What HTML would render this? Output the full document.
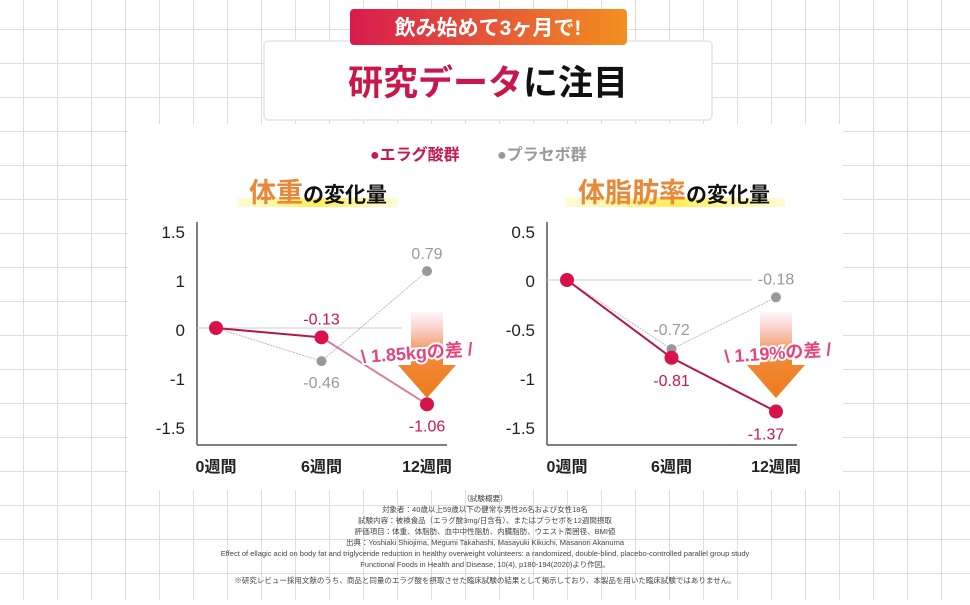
<!DOCTYPE html>
<html><head><meta charset="utf-8">
<style>
html,body{margin:0;padding:0;}
body{width:970px;height:600px;overflow:hidden;background:#fff;font-family:"Liberation Sans","Noto Sans CJK JP",sans-serif;}
svg text{font-family:"Liberation Sans","Noto Sans CJK JP",sans-serif;}
</style></head>
<body>
<svg id="s" width="970" height="600" viewBox="0 0 970 600" xmlns="http://www.w3.org/2000/svg">
<defs>
<pattern id="grid" width="34" height="34" patternUnits="userSpaceOnUse" x="-10" y="-4">
<rect width="34" height="34" fill="#fff"/>
<path d="M34 0V34M0 34H34" stroke="#dedede" stroke-width="2" fill="none"/>
</pattern>
<linearGradient id="badge" x1="0" x2="1" y1="0" y2="0"><stop offset="0" stop-color="#d81b4e"/><stop offset="1" stop-color="#f39020"/></linearGradient>
<linearGradient id="arr" x1="0" x2="0" y1="0" y2="1"><stop offset="0" stop-color="#f4a0b0" stop-opacity="0.1"/><stop offset="0.5" stop-color="#f08a3a"/><stop offset="1" stop-color="#f07a1a"/></linearGradient>
<linearGradient id="hl" x1="0" x2="1"><stop offset="0" stop-color="#fff27a" stop-opacity="0.3"/><stop offset="0.5" stop-color="#ffee55"/><stop offset="1" stop-color="#fff27a" stop-opacity="0.3"/></linearGradient>
</defs>
<rect width="970" height="600" fill="url(#grid)"/>
<rect x="128" y="124" width="715" height="366" fill="#fff"/>
<rect x="264" y="41" width="448" height="79" rx="4" fill="#fff" stroke="#e4e4e4" stroke-width="1.5"/>
<rect x="350" y="9" width="277" height="36" rx="4" fill="url(#badge)"/>
<text x="488" y="35" text-anchor="middle" font-size="21" fill="#fff" font-weight="bold">飲み始めて3ヶ月で!</text>
<text x="488" y="95" text-anchor="middle" font-size="35" font-weight="bold"><tspan fill="#c8174a">研究データ</tspan><tspan fill="#111">に注目</tspan></text>
<g>
<text x="370" y="160" font-size="16" font-weight="bold" fill="#c8174a">●エラグ酸群</text>
<text x="497" y="160" font-size="16" font-weight="bold" fill="#999">●プラセボ群</text>
</g>
<rect x="237" y="198" width="160" height="9" fill="url(#hl)"/>
<text x="318" y="202" text-anchor="middle" font-size="27" font-weight="bold"><tspan fill="#e8883a">体重</tspan><tspan fill="#111" font-size="21">の変化量</tspan></text>
<rect x="565" y="198" width="220" height="9" fill="url(#hl)"/>
<text x="674" y="202" text-anchor="middle" font-size="27" font-weight="bold"><tspan fill="#e8883a">体脂肪率</tspan><tspan fill="#111" font-size="21">の変化量</tspan></text>
<g id="c1"></g>
<g id="c2"></g>
<g font-size="7.5" fill="#444" text-anchor="middle">
<text x="485" y="501">（試験概要）</text>
<text x="485" y="512">対象者：40歳以上59歳以下の健常な男性26名および女性18名</text>
<text x="485" y="523">試験内容：被検食品（エラグ酸3mg/日含有）、またはプラセボを12週間摂取</text>
<text x="485" y="534">評価項目：体重、体脂肪、血中中性脂肪、内臓脂肪、ウエスト周囲径、BMI値</text>
<text x="485" y="545">出典：Yoshiaki Shiojima, Megumi Takahashi, Masayuki Kikuchi, Masanori Akanuma</text>
<text x="485" y="556">Effect of ellagic acid on body fat and triglyceride reduction in healthy overweight volunteers: a randomized, double-blind, placebo-controlled parallel group study</text>
<text x="485" y="567">Functional Foods in Health and Disease, 10(4), p180-194(2020)より作図。</text>
<text x="485" y="583">※研究レビュー採用文献のうち、商品と同量のエラグ酸を摂取させた臨床試験の結果として掲示しており、本製品を用いた臨床試験ではありません。</text>
</g>
</svg>
<script>
const weeks = ["0週間","6週間","12週間"];
const weightTicks = ["1.5","1","0","-1","-1.5"];
const weightEllagic = [0,-0.13,-1.06];
const weightPlacebo = [0,-0.46,0.79];
const fatTicks = ["0.5","0","-0.5","-1","-1.5"];
const fatEllagic = [0,-0.81,-1.37];
const fatPlacebo = [0,-0.72,-0.18];
const weightDiff = "\\ 1.85kgの差 /";
const fatDiff = "\\ 1.19%の差 /";
const NS="http://www.w3.org/2000/svg";
function mk(p,tag,a,txt){const e=document.createElementNS(NS,tag);for(const k in a)e.setAttribute(k,a[k]);if(txt!=null)e.textContent=txt;p.appendChild(e);return e;}
function chart(g,opt){
  const ax=opt.ax, x=i=>opt.x0+i*opt.dx, y=v=>opt.zeroY-v*opt.k;
  const yl=mk(g,'line',{x1:ax,y1:222,x2:ax,y2:445,stroke:'#555','stroke-width':1.5});
  
  
  const xl=mk(g,'line',{x1:ax,y1:445,x2:ax+250,y2:445,stroke:'#555','stroke-width':1.5});
  
  
  opt.ticks.forEach((t,i)=>{const e=mk(g,'text',{x:ax-12,y:238+i*49,'text-anchor':'end','font-size':17,fill:'#222'},t);
    
    });
  const zl=mk(g,'line',{x1:ax,y1:y(0),x2:ax+205,y2:y(0),stroke:'#ccc','stroke-width':1});
  
  
  weeks.forEach((w,i)=>{const e=mk(g,'text',{x:x(i),y:472,'text-anchor':'middle','font-size':16,fill:'#222','font-weight':'bold'},w);
    
    });
  const a=mk(g,'path',{d:`M${x(2)-16} 312 H${x(2)+16} V365 H${x(2)+29} L${x(2)} 398 L${x(2)-29} 365 H${x(2)-16} Z`,fill:'url(#arr)'});
  
  
  const pl=mk(g,'polyline',{points:opt.pl.map((v,i)=>x(i)+','+y(v)).join(' '),fill:'none',stroke:'#bbb','stroke-width':1,'stroke-dasharray':'2,1'});
  
  
  opt.pl.forEach((v,i)=>{if(i==0)return;const c=mk(g,'circle',{cx:x(i),cy:y(v),r:5,fill:'#999'});
    
    });
  for(let i=0;i<2;i++){const l=mk(g,'line',{x1:x(i),y1:y(opt.el[i]),x2:x(i+1),y2:y(opt.el[i+1]),stroke:i==0||opt.dark?'#b51745':'#d9809c','stroke-width':2});
    
    }
  opt.el.forEach((v,i)=>{const c=mk(g,'circle',{cx:x(i),cy:y(v),r:7,fill:'#d8124a'});
    
    });
  opt.labels.forEach(L=>{const v=L.s=='e'?opt.el[L.i]:opt.pl[L.i];
    const e=mk(g,'text',{x:x(L.i)+(L.dx||0),y:y(v)+L.dy,'text-anchor':'middle','font-size':16,fill:L.s=='e'?'#c8174a':'#999',stroke:'#fff','stroke-width':3,'paint-order':'stroke'},v.toFixed(2));
    
    });
  const cx=x(2)+opt.dd;
  const d=mk(g,'text',{x:cx,y:359,'text-anchor':'middle','font-size':18,'font-weight':'bold',fill:'#e8437a',stroke:'#fff','stroke-width':4,'paint-order':'stroke',transform:`rotate(-4 ${cx} 355)`},opt.diff);
  
  
}
chart(document.getElementById('c1'),{ax:197,x0:216,dx:105.5,zeroY:328,k:72,ticks:weightTicks,el:weightEllagic,pl:weightPlacebo,diff:weightDiff,dark:false,dd:-10,
  labels:[{s:'e',i:1,dy:-13},{s:'p',i:1,dy:27},{s:'p',i:2,dy:-12},{s:'e',i:2,dy:27}]});
chart(document.getElementById('c2'),{ax:547,x0:567,dx:104.5,zeroY:280,k:96,ticks:fatTicks,el:fatEllagic,pl:fatPlacebo,diff:fatDiff,dark:true,dd:2,
  labels:[{s:'p',i:1,dy:-14},{s:'e',i:1,dy:28},{s:'p',i:2,dy:-13},{s:'e',i:2,dx:-10,dy:28}]});
</script>
</body></html>
